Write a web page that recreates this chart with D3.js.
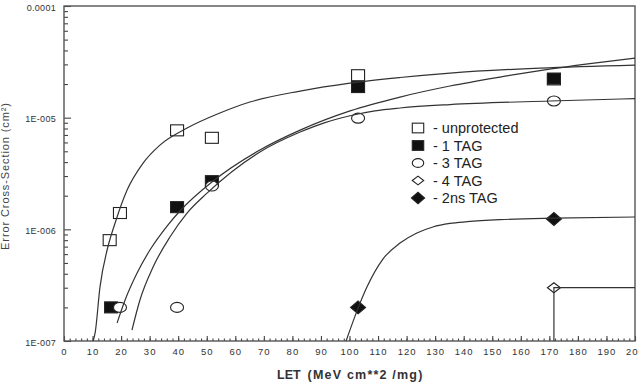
<!DOCTYPE html>
<html>
<head>
<meta charset="utf-8">
<script src="https://cdn.jsdelivr.net/npm/d3@7"></script>
<style>
  html, body { margin: 0; padding: 0; background: #fff; }
  svg { display: block; font-family: "Liberation Sans", Arial, sans-serif; }
  .tick text { fill: #333; }
</style>
</head>
<body>
<div id="chart"></div>
<script>
/* ---- measured points (LET, cross-section) ---- */
const UNPROT_LET = [16, 19.6, 39.6, 51.8, 103, 171.6];
const UNPROT_XS  = [8.0e-7, 1.4e-6, 7.7e-6, 6.6e-6, 2.4e-5, 2.2e-5];

const TAG1_LET = [16.5, 39.6, 51.8, 103, 171.6];
const TAG1_XS  = [2.0e-7, 1.58e-6, 2.7e-6, 1.88e-5, 2.24e-5];

const TAG3_LET = [19.6, 39.6, 51.8, 103, 171.6];
const TAG3_XS  = [2.0e-7, 2.0e-7, 2.44e-6, 9.9e-6, 1.41e-5];

const TAG4_LET = [171.6];
const TAG4_XS  = [3.0e-7];

const NS2_LET = [103, 171.6];
const NS2_XS  = [2.0e-7, 1.24e-6];

/* ---- fitted curves ---- */
const FIT_UNPROT_LET = [10.2, 10.9, 12.6, 15.1, 17.9, 22.1, 27.7, 33.6, 43.1, 54.6, 65.1, 82.7, 100.2, 117.7, 135.2, 166.7, 200];
const FIT_UNPROT_XS  = [1e-7, 1.18e-7, 3.04e-7, 6.53e-7, 1.14e-6, 2.25e-6, 3.92e-6, 5.68e-6, 8.07e-6, 1.10e-5, 1.38e-5, 1.73e-5, 2.04e-5, 2.29e-5, 2.51e-5, 2.78e-5, 2.96e-5];

const FIT_TAG1_LET = [18.6, 21.4, 25.6, 30.1, 36.1, 40.6, 51.8, 68.6, 82.7, 100.2, 117.7, 135.2, 152.7, 166.7, 184.2, 200];
const FIT_TAG1_XS  = [1.45e-7, 2.33e-7, 4.06e-7, 6.53e-7, 1.07e-6, 1.46e-6, 2.65e-6, 5.13e-6, 7.74e-6, 1.15e-5, 1.53e-5, 1.92e-5, 2.31e-5, 2.64e-5, 3.05e-5, 3.42e-5];

const FIT_TAG3_LET = [23.8, 26.6, 31.2, 37.1, 43.1, 50.1, 68.6, 82.7, 91.4, 100.2, 108.9, 117.7, 135.2, 170.2, 200];
const FIT_TAG3_XS  = [1.25e-7, 2.33e-7, 4.6e-7, 8.53e-7, 1.40e-6, 2.11e-6, 4.92e-6, 7.43e-6, 9.04e-6, 1.04e-5, 1.15e-5, 1.22e-5, 1.31e-5, 1.41e-5, 1.48e-5];

const FIT_TAG4_LET = [171.6, 171.6, 200];
const FIT_TAG4_XS  = [1e-7, 3.0e-7, 3.0e-7];

const FIT_NS2_LET = [98.8, 103, 106.1, 111.7, 117.7, 123.6, 129.2, 135.2, 141.2, 152.7, 171.6, 200];
const FIT_NS2_XS  = [1e-7, 1.97e-7, 3.04e-7, 5.42e-7, 7.54e-7, 9.27e-7, 1.05e-6, 1.13e-6, 1.17e-6, 1.22e-6, 1.26e-6, 1.29e-6];

/* ---- axes ---- */
const X_TICKS = d3.range(0, 201, 10);
const X_MINOR = d3.range(0, 201, 2);
const Y_TICKS = [1e-7, 1e-6, 1e-5, 1e-4];
const Y_TICK_LABELS = ["1E-007", "1E-006", "1E-005", "0.0001"];

const LEGEND = ["- unprotected", "- 1 TAG", "- 3 TAG", "- 4 TAG", "- 2ns TAG"];

(() => {
  const W = 639, H = 385;
  const L = 64, R = 635, T = 6, B = 341;

  const svg = d3.select("#chart").append("svg")
    .attr("width", W).attr("height", H);

  const x = d3.scaleLinear().domain([0, 200]).range([L, R]);
  const y = d3.scaleLog().domain([1e-7, 1e-4]).range([B, T]);

  const zip = (a, b) => a.map((v, i) => [v, b[i]]);

  /* clip */
  svg.append("clipPath").attr("id", "plot")
    .append("rect").attr("x", L).attr("y", T).attr("width", R - L).attr("height", B - T);

  /* y axis: minor + major ticks pointing inward */
  const yMinor = y.ticks().filter(v => !Y_TICKS.some(t => Math.abs(t - v) / t < 1e-6));
  svg.append("g").attr("transform", `translate(${L},0)`)
    .call(d3.axisLeft(y).tickValues(yMinor).tickSize(-4).tickSizeOuter(0).tickFormat(""))
    .call(g => g.select(".domain").remove());
  svg.append("g").attr("transform", `translate(${L},0)`)
    .call(d3.axisLeft(y).tickValues(Y_TICKS).tickSize(-7).tickSizeOuter(0).tickPadding(8)
      .tickFormat((d, i) => Y_TICK_LABELS[i]))
    .call(g => g.select(".domain").remove())
    .call(g => g.selectAll("text").attr("font-size", 9).attr("dy", "0.45em").attr("letter-spacing", 0.3));

  /* x axis */
  svg.append("g").attr("transform", `translate(0,${B})`)
    .call(d3.axisBottom(x).tickValues(X_MINOR).tickSize(-2.5).tickSizeOuter(0).tickFormat(""))
    .call(g => g.select(".domain").remove());
  svg.append("g").attr("transform", `translate(0,${B})`)
    .call(d3.axisBottom(x).tickValues(X_TICKS).tickSize(-5).tickSizeOuter(0).tickPadding(8))
    .call(g => g.select(".domain").remove())
    .call(g => g.selectAll("text").attr("font-size", 9.5).attr("letter-spacing", 1).attr("dy", "0.6em"));

  svg.selectAll(".tick line").attr("stroke", "#444").attr("stroke-width", 1.1);

  /* frame */
  svg.append("rect")
    .attr("x", L).attr("y", T).attr("width", R - L).attr("height", B - T)
    .attr("fill", "none").attr("stroke", "#555").attr("stroke-width", 1.4);

  /* axis titles */
  svg.append("text")
    .attr("transform", `translate(9,176) rotate(-90)`)
    .attr("text-anchor", "middle")
    .attr("font-size", 11).attr("letter-spacing", 0.9).attr("fill", "#444")
    .text("Error Cross-Section (cm²)");

  const xt = svg.append("text")
    .attr("x", 277).attr("y", 379)
    .attr("font-size", 12.5).attr("fill", "#333").attr("font-weight", "bold");
  xt.append("tspan").text("LET");
  xt.append("tspan").attr("letter-spacing", 1.2).attr("dx", 7)
    .text("(MeV cm**2 /mg)");

  /* marker shapes */
  function marker(sel, kind, s) {
    s = s || 1;
    if (kind === "sq" || kind === "fsq") {
      sel.append("rect")
        .attr("x", -6.5 * s).attr("y", -5.5 * s).attr("width", 13 * s).attr("height", 11 * s)
        .attr("fill", kind === "fsq" ? "#111" : "#fff")
        .attr("stroke", "#222").attr("stroke-width", 1.1);
    } else if (kind === "ci") {
      sel.append("ellipse")
        .attr("rx", 6.5 * s).attr("ry", 5 * s)
        .attr("fill", "#fff").attr("stroke", "#222").attr("stroke-width", 1.1);
    } else if (kind === "di" || kind === "fdi") {
      const w = (kind === "fdi" ? 7.5 : 6.5) * s, h = (kind === "fdi" ? 6.5 : 5) * s;
      sel.append("path")
        .attr("d", `M${-w},0L0,${-h}L${w},0L0,${h}Z`)
        .attr("fill", kind === "fdi" ? "#111" : "#fff")
        .attr("stroke", "#222").attr("stroke-width", 1.1);
    }
  }

  const series = [
    { kind: "sq",  pts: zip(UNPROT_LET, UNPROT_XS) },
    { kind: "fsq", pts: zip(TAG1_LET, TAG1_XS) },
    { kind: "ci",  pts: zip(TAG3_LET, TAG3_XS) },
    { kind: "di",  pts: zip(TAG4_LET, TAG4_XS) },
    { kind: "fdi", pts: zip(NS2_LET, NS2_XS) }
  ];

  const mk = svg.append("g");
  series.forEach(s => {
    s.pts.forEach(p => {
      const g = mk.append("g").attr("transform", `translate(${x(p[0])},${y(p[1])})`);
      marker(g, s.kind);
    });
  });

  /* fitted curves */
  const smooth = d3.line().x(d => x(d[0])).y(d => y(d[1])).curve(d3.curveMonotoneX);
  const straight = d3.line().x(d => x(d[0])).y(d => y(d[1]));
  const curves = [
    { gen: smooth,   pts: zip(FIT_UNPROT_LET, FIT_UNPROT_XS) },
    { gen: smooth,   pts: zip(FIT_TAG1_LET, FIT_TAG1_XS) },
    { gen: smooth,   pts: zip(FIT_TAG3_LET, FIT_TAG3_XS) },
    { gen: straight, pts: zip(FIT_TAG4_LET, FIT_TAG4_XS) },
    { gen: smooth,   pts: zip(FIT_NS2_LET, FIT_NS2_XS) }
  ];
  svg.append("g").attr("clip-path", "url(#plot)")
    .selectAll("path").data(curves).join("path")
    .attr("d", d => d.gen(d.pts))
    .attr("fill", "none").attr("stroke", "#333").attr("stroke-width", 1.2);

  /* legend */
  const kinds = ["sq", "fsq", "ci", "di", "fdi"];
  const leg = svg.append("g").attr("transform", "translate(418,128)");
  LEGEND.forEach((t, i) => {
    const row = leg.append("g").attr("transform", `translate(0,${i * 17.5})`);
    marker(row, kinds[i], 0.88);
    row.append("text").attr("x", 15).attr("y", 5)
      .attr("font-size", 14.5).attr("fill", "#222").text(t);
  });
})();
</script>
</body>
</html>
